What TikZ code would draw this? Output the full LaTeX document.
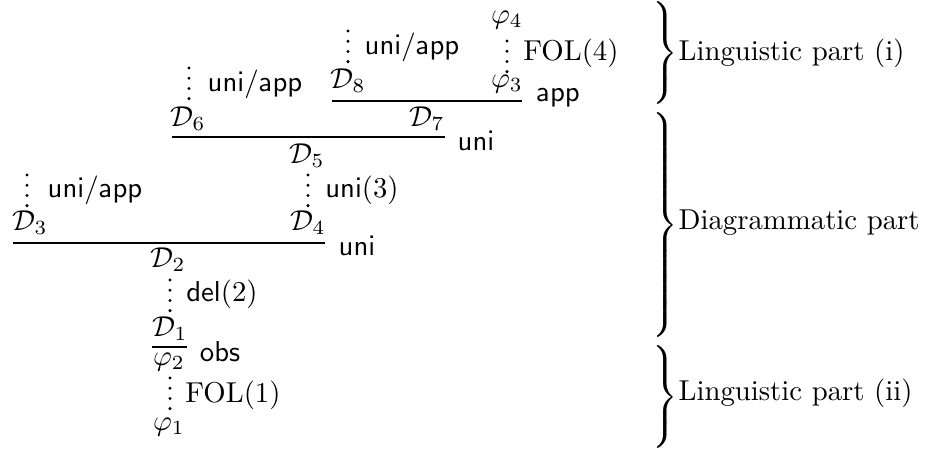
\documentclass[tikz,border=0pt]{standalone}
\tikzset{
  lbl/.style={inner sep=0pt, anchor=center},
  brlabel/.style={inner sep=0pt, anchor=west},
  infline/.style={line width=0.45pt},
  dotsline/.style={line width=1.15pt, line cap=round, dash pattern=on 0pt off 3.55pt},
}
\newcommand{\mybrace}[1]{$\delimiterfactor=1000\delimitershortfall=0pt\nulldelimiterspace=0pt\left.\vcenter{\hbox{\vrule height #1 width 0pt}}\right\}$}
\begin{document}
\begin{tikzpicture}[x=0.3477pt,y=-0.3477pt]
\useasboundingbox (0,0) rectangle (926,453);
% Linguistic part (i)
\node[lbl] (phi4) at (507,20) {$\varphi_4$};
\node[lbl] (fol4) at (571,53) {$\mathrm{FOL}(4)$};
\node[lbl] (phi3) at (507,84) {$\varphi_3$};
\node[lbl] (D8) at (348,81) {$\mathcal{D}_8$};
\node[lbl] (ua1) at (412,47) {$\mathsf{uni/app}$};
\node[lbl] (app) at (558,98) {$\mathsf{app}$};
\coordinate (l1a) at (332,101); \coordinate (l1b) at (522,101);
\draw[infline] (l1a) -- (l1b);
\coordinate (dAa) at (348,31); \coordinate (dAb) at (348,62);
\draw[dotsline] (dAa) -- (dAb);
\coordinate (dBa) at (507,41); \coordinate (dBb) at (507,72);
\draw[dotsline] (dBa) -- (dBb);
% Diagrammatic part
\node[lbl] (D6) at (188,119) {$\mathcal{D}_6$};
\node[lbl] (ua2) at (255,84) {$\mathsf{uni/app}$};
\node[lbl] (D7) at (427,119) {$\mathcal{D}_7$};
\coordinate (dCa) at (189,68); \coordinate (dCb) at (189,99);
\draw[dotsline] (dCa) -- (dCb);
\coordinate (l2a) at (172,137); \coordinate (l2b) at (445,137);
\draw[infline] (l2a) -- (l2b);
\node[lbl] (uni1) at (476,141) {$\mathsf{uni}$};
\node[lbl] (D5) at (307,156) {$\mathcal{D}_5$};
\node[lbl] (uni3) at (362,190) {$\mathsf{uni}(3)$};
\coordinate (dDa) at (308,175); \coordinate (dDb) at (308,206);
\draw[dotsline] (dDa) -- (dDb);
\node[lbl] (ua3) at (95,190) {$\mathsf{uni/app}$};
\coordinate (dEa) at (27,175); \coordinate (dEb) at (27,206);
\draw[dotsline] (dEa) -- (dEb);
\node[lbl] (D3) at (30,223) {$\mathcal{D}_3$};
\node[lbl] (D4) at (308,223) {$\mathcal{D}_4$};
\coordinate (l3a) at (13,243); \coordinate (l3b) at (325,243);
\draw[infline] (l3a) -- (l3b);
\node[lbl] (uni2) at (357,246) {$\mathsf{uni}$};
\node[lbl] (D2) at (168,260) {$\mathcal{D}_2$};
\node[lbl] (del2) at (222,294) {$\mathsf{del}(2)$};
\coordinate (dFa) at (170,280); \coordinate (dFb) at (170,311);
\draw[dotsline] (dFa) -- (dFb);
\node[lbl] (D1) at (170,329) {$\mathcal{D}_1$};
% Linguistic part (ii)
\coordinate (l4a) at (152,347); \coordinate (l4b) at (187,347);
\draw[infline] (l4a) -- (l4b);
\node[lbl] (obs) at (220,352) {$\mathsf{obs}$};
\node[lbl] (phi2) at (169,362) {$\varphi_2$};
\node[lbl] (fol1) at (233,395) {$\mathrm{FOL}(1)$};
\coordinate (dGa) at (170,378); \coordinate (dGb) at (170,409);
\draw[dotsline] (dGa) -- (dGb);
\node[lbl] (phi1) at (169,427) {$\varphi_1$};
% braces
\node[lbl] (br1) at (665,53) {\mybrace{35pt}};
\node[lbl] (br2) at (665,225) {\mybrace{77pt}};
\node[lbl] (br3) at (665,397) {\mybrace{35pt}};
\node[brlabel] (t1) at (678,53) {Linguistic part (i)};
\node[brlabel] (t2) at (678,223) {Diagrammatic part};
\node[brlabel] (t3) at (678,393) {Linguistic part (ii)};
\end{tikzpicture}
\end{document}
